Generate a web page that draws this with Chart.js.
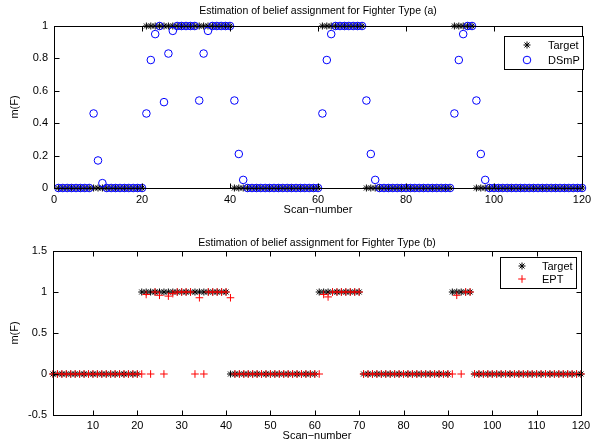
<!DOCTYPE html>
<html>
<head>
<meta charset="utf-8">
<script src="https://cdn.jsdelivr.net/npm/chart.js@4.4.0/dist/chart.umd.min.js"></script>
<style>
  body { margin: 0; background: #fff; }
  canvas { display: block; position: absolute; left: 0; }
</style>
</head>
<body>
<canvas id="chartA" width="602" height="221" style="top:0"></canvas>
<canvas id="chartB" width="602" height="221" style="top:221px"></canvas>
<script>
// scan-by-scan values
const target = [
  0,0,0,0,0,0,0,0,0,0, 0,0,0,0,0,0,0,0,0,0,
  1,1,1,1,1,1,1,1,1,1, 1,1,1,1,1,1,1,1,1,1,
  0,0,0,0,0,0,0,0,0,0, 0,0,0,0,0,0,0,0,0,0,
  1,1,1,1,1,1,1,1,1,1,
  0,0,0,0,0,0,0,0,0,0, 0,0,0,0,0,0,0,0,0,0,
  1,1,1,1,1,
  0,0,0,0,0,0,0,0,0,0, 0,0,0,0,0,0,0,0,0,0, 0,0,0,0,0
];
const dsmp = [
  0,0,0,0,0,0,0,0,0.46,0.17, 0.03,0,0,0,0,0,0,0,0,0,
  0.46,0.79,0.95,1,0.53,0.83,0.97,1,1,1, 1,1,0.54,0.83,0.97,1,1,1,1,1,
  0.54,0.21,0.05,0,0,0,0,0,0,0, 0,0,0,0,0,0,0,0,0,0,
  0.46,0.79,0.95,1,1,1,1,1,1,1,
  0.54,0.21,0.05,0,0,0,0,0,0,0, 0,0,0,0,0,0,0,0,0,0,
  0.46,0.79,0.95,1,1,
  0.54,0.21,0.05,0,0,0,0,0,0,0, 0,0,0,0,0,0,0,0,0,0, 0,0,0,0,0,0,0.46,0.17,0.03,0
];
const ept = [
  0,0,0,0,0,0,0,0,0,0, 0,0,0,0,0,0,0,0,0,0,
  0,0.97,0,1,0.96,0,0.95,0.98,1,1, 1,1,0,0.93,0,1,1,1,1,1,
  0.93,0,0,0,0,0,0,0,0,0, 0,0,0,0,0,0,0,0,0,0,
  0,0.97,0.94,1,1,1,1,1,1,1,
  0,0,0,0,0,0,0,0,0,0, 0,0,0,0,0,0,0,0,0,0,
  0,0.96,0,1,1,
  0,0,0,0,0,0,0,0,0,0, 0,0,0,0,0,0,0,0,0,0, 0,0,0,0,0
];
const scans = target.map((_, i) => i + 1);
const xTicksB = [10, 20, 30, 40, 50, 60, 70, 80, 90, 100, 110, 120];

const FONT = '"Liberation Sans", Arial, sans-serif';
const pts = (ys) => ys.map((y, i) => ({ x: scans[i], y: y }));

const framePlugin = {
  id: 'frame',
  afterDraw(chart, args, o) {
    const { ctx, chartArea: a, scales } = chart;
    ctx.save();
    ctx.strokeStyle = '#000';
    ctx.lineWidth = 1;
    const L = Math.round(a.left) + 0.5, R = Math.round(a.right) + 0.5;
    const T = Math.round(a.top) + 0.5, B = Math.round(a.bottom) + 0.5;
    ctx.strokeRect(L, T, R - L, B - T);
    ctx.beginPath();
    scales.x.ticks.forEach((t) => {
      const px = Math.round(scales.x.getPixelForValue(t.value)) + 0.5;
      ctx.moveTo(px, B); ctx.lineTo(px, B - 5);
      ctx.moveTo(px, T); ctx.lineTo(px, T + 5);
    });
    scales.y.ticks.forEach((t) => {
      const py = Math.round(scales.y.getPixelForValue(t.value)) + 0.5;
      ctx.moveTo(L, py); ctx.lineTo(L + 5, py);
      ctx.moveTo(R, py); ctx.lineTo(R - 5, py);
    });
    ctx.stroke();

    // titles
    ctx.fillStyle = '#000';
    ctx.textAlign = 'center';
    ctx.textBaseline = 'middle';
    ctx.font = '10.5px ' + FONT;
    ctx.fillText(o.title, (a.left + a.right) / 2, o.titleY);
    ctx.font = '11px ' + FONT;
    ctx.fillText('Scan\u2212number', (a.left + a.right) / 2, o.xLabelY);
    ctx.save();
    ctx.translate(o.yLabelX, (a.top + a.bottom) / 2);
    ctx.rotate(-Math.PI / 2);
    ctx.fillText('m(F)', 0, 0);
    ctx.restore();

    // legend box
    const lg = o.legend;
    ctx.fillStyle = '#fff';
    ctx.fillRect(lg.x0, lg.y0, lg.x1 - lg.x0, lg.y1 - lg.y0);
    ctx.strokeRect(lg.x0 + 0.5, lg.y0 + 0.5, lg.x1 - lg.x0, lg.y1 - lg.y0);
    ctx.textAlign = 'left';
    ctx.font = '11px ' + FONT;
    chart.data.datasets.forEach((ds, i) => {
      const y = lg.rows[i];
      ctx.strokeStyle = ds.borderColor;
      ctx.fillStyle = ds.backgroundColor;
      ctx.lineWidth = ds.borderWidth;
      Chart.helpers.drawPoint(ctx, { pointStyle: ds.pointStyle, radius: ds.pointRadius, borderWidth: ds.borderWidth, rotation: 0 }, lg.markX, y);
      ctx.fillStyle = '#000';
      ctx.fillText(ds.label, lg.textX, y + 1);
    });
    ctx.restore();
  }
};

const tickFont = { family: FONT, size: 11 };
const noGrid = { display: false, drawTicks: false };

new Chart(document.getElementById('chartA'), {
  type: 'scatter',
  data: {
    datasets: [{
      label: 'Target',
      data: pts(target),
      pointStyle: 'star',
      pointRadius: 3.5,
      borderWidth: 1,
      borderColor: '#000',
      backgroundColor: '#000',
      clip: false,
      order: 2
    }, {
      label: 'DSmP',
      data: pts(dsmp),
      pointStyle: 'circle',
      pointRadius: 3.8,
      borderWidth: 1,
      borderColor: '#0000ff',
      backgroundColor: 'rgba(0,0,0,0)',
      clip: false,
      order: 1
    }]
  },
  options: {
    responsive: false,
    animation: false,
    layout: { padding: { top: 26, right: 20, left: 0, bottom: 0 } },
    scales: {
      x: {
        type: 'linear', min: 0, max: 120,
        ticks: { stepSize: 20, font: tickFont, color: '#000', padding: 5, maxRotation: 0 },
        grid: noGrid, border: { display: false },
        afterFit(s) { s.height = 33; }
      },
      y: {
        min: 0, max: 1,
        ticks: { stepSize: 0.2, font: tickFont, color: '#000', padding: 6, callback: (v) => +v.toFixed(1) },
        grid: noGrid, border: { display: false },
        afterFit(s) { s.width = 54; }
      }
    },
    plugins: {
      legend: { display: false },
      tooltip: { enabled: false },
      frame: {
        title: 'Estimation of belief assignment for Fighter Type (a)',
        titleY: 11, xLabelY: 210, yLabelX: 15,
        legend: { x0: 504, x1: 583, y0: 36, y1: 69, markX: 527, textX: 548, rows: [45, 60] }
      }
    }
  },
  plugins: [framePlugin]
});

new Chart(document.getElementById('chartB'), {
  type: 'scatter',
  data: {
    datasets: [{
      label: 'Target',
      data: pts(target),
      pointStyle: 'star',
      pointRadius: 3.5,
      borderWidth: 1,
      borderColor: '#000',
      backgroundColor: '#000',
      clip: false,
      order: 2
    }, {
      label: 'EPT',
      data: pts(ept),
      pointStyle: 'cross',
      pointRadius: 3.8,
      borderWidth: 1,
      borderColor: '#ff0000',
      backgroundColor: '#ff0000',
      clip: false,
      order: 1
    }]
  },
  options: {
    responsive: false,
    animation: false,
    layout: { padding: { top: 30, right: 21, left: 0, bottom: 0 } },
    scales: {
      x: {
        type: 'linear', min: 1, max: 120,
        afterBuildTicks(s) { s.ticks = xTicksB.map((v) => ({ value: v })); },
        ticks: { font: tickFont, color: '#000', padding: 4, maxRotation: 0 },
        grid: noGrid, border: { display: false },
        afterFit(s) { s.height = 27; }
      },
      y: {
        min: -0.5, max: 1.5,
        ticks: { stepSize: 0.5, font: tickFont, color: '#000', padding: 6, callback: (v) => String(+v.toFixed(1)) },
        grid: noGrid, border: { display: false },
        afterFit(s) { s.width = 53; }
      }
    },
    plugins: {
      legend: { display: false },
      tooltip: { enabled: false },
      frame: {
        title: 'Estimation of belief assignment for Fighter Type (b)',
        titleY: 22, xLabelY: 215, yLabelX: 15,
        legend: { x0: 500, x1: 576, y0: 36, y1: 67, markX: 522, textX: 542, rows: [45, 58] }
      }
    }
  },
  plugins: [framePlugin]
});
</script>
</body>
</html>
